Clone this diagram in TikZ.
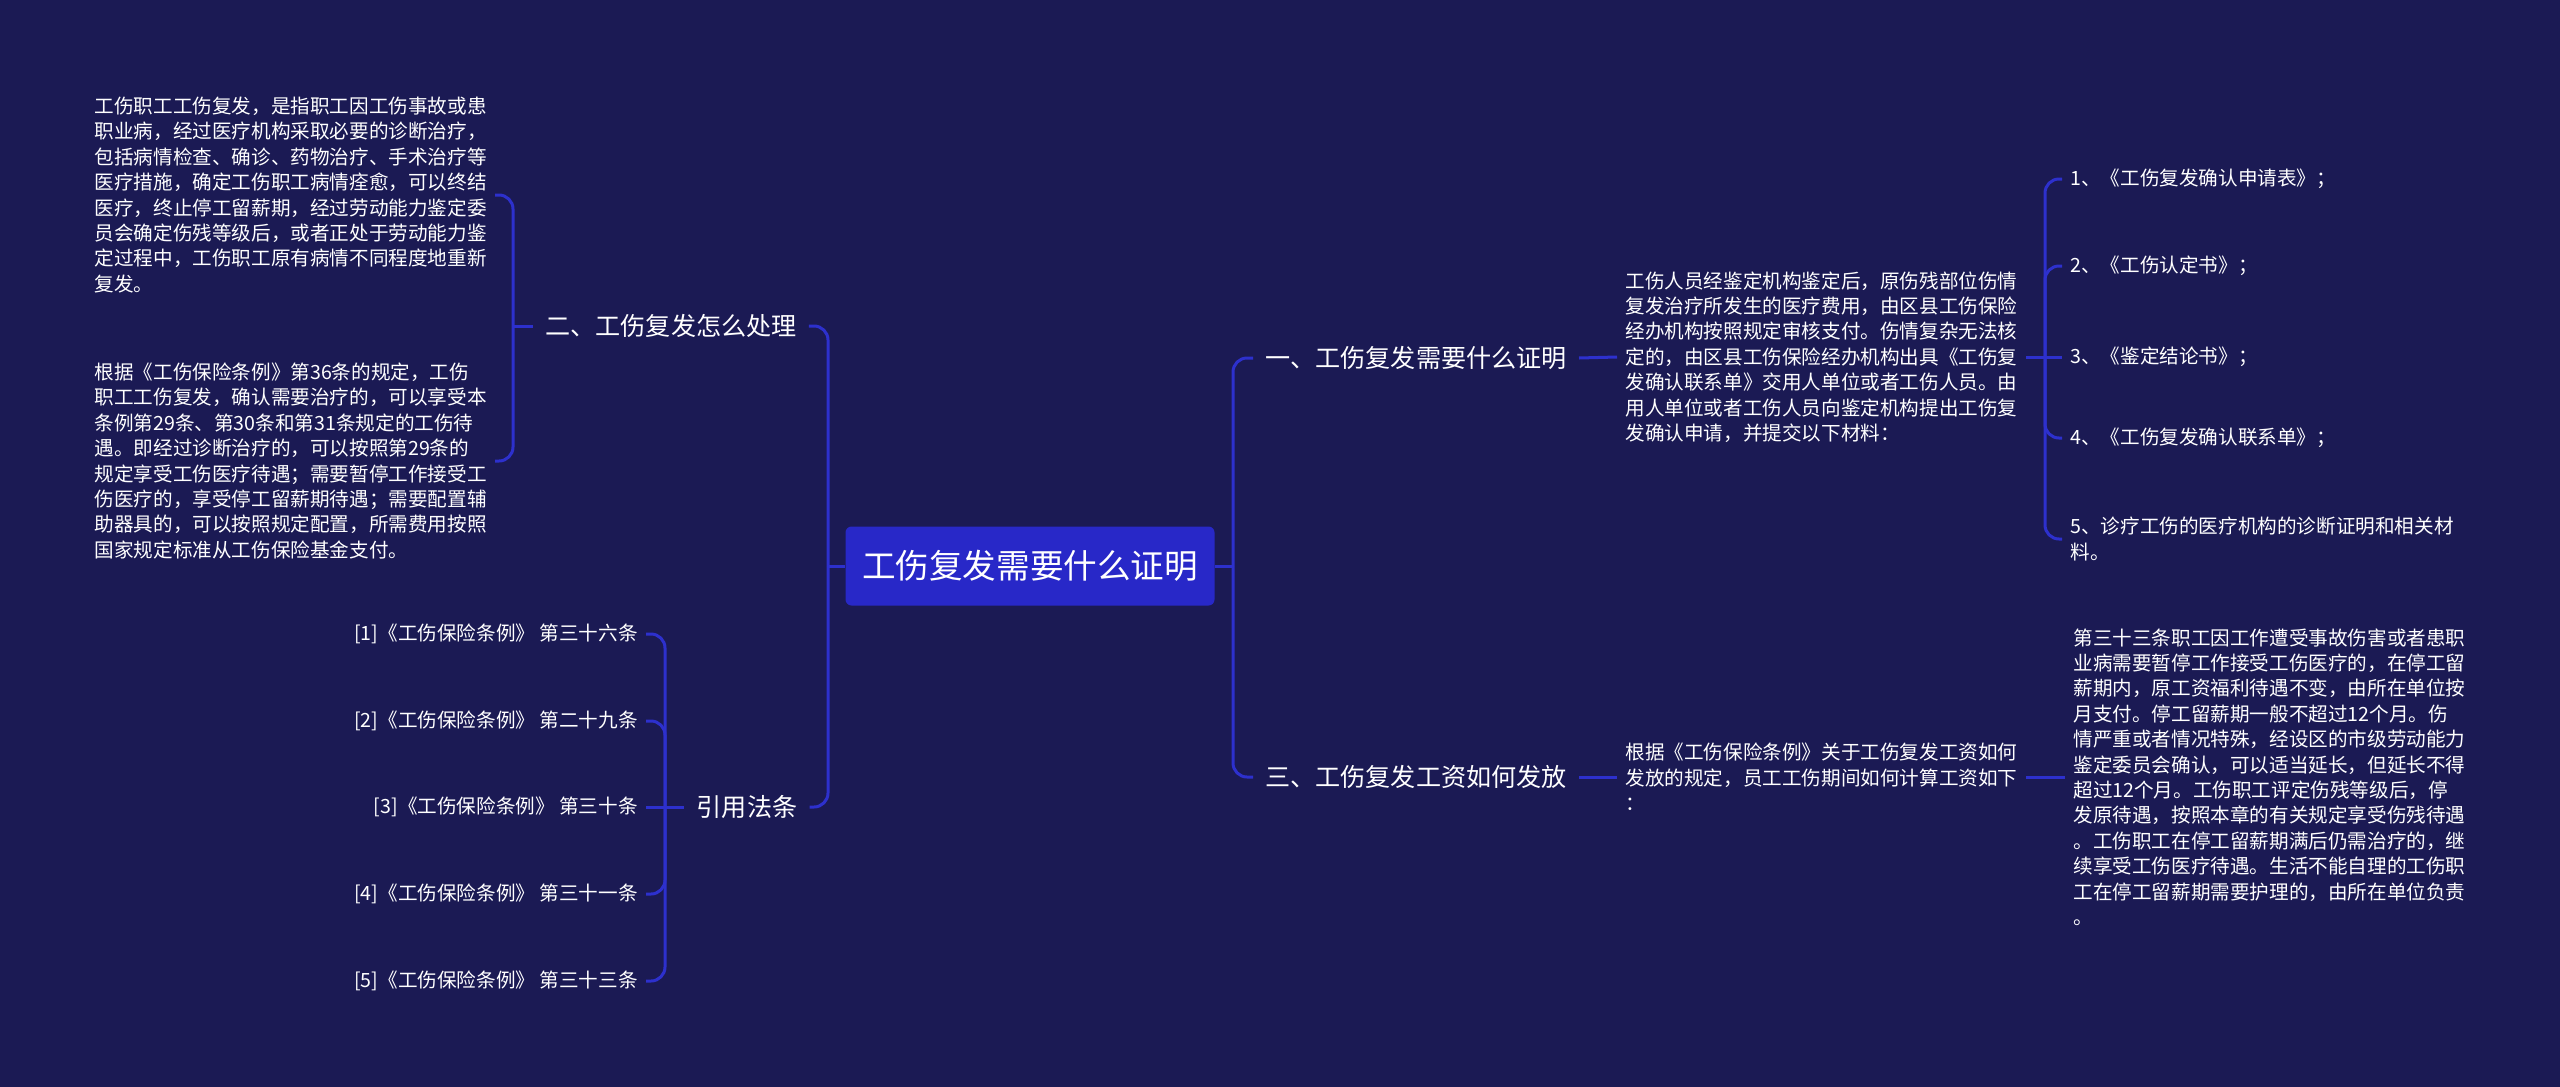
\documentclass[tikz,border=0pt]{standalone}
\usepackage{fontspec}
\setmainfont{Noto Sans CJK SC}
\definecolor{fond}{RGB}{27,26,84}
\definecolor{trait}{RGB}{45,48,205}
\definecolor{boite}{RGB}{40,40,200}

\begin{document}
\begin{tikzpicture}[x=0.5pt,y=-0.5pt,
	racine/.style={fill=boite,rounded corners=3pt,text=white,font=\fontsize{16.8}{20}\selectfont,minimum width=184.5pt,minimum height=39.5pt},
	branche/.style={text=white,font=\fontsize{12.55}{15}\selectfont,inner xsep=6pt},
	texte/.style={text=white,font=\fontsize{9.8}{12.7}\selectfont,align=left,inner sep=4pt},
	lien/.style={draw=trait,line width=1.5pt,rounded corners=7pt}]
	% Fond
	\fill[fond] (0,0) rectangle (2560,1087);
	\useasboundingbox (0,0) rectangle (2560,1087);
	% Racine
	\node[racine] (root) at (1030,566) {工伤复发需要什么证明};
	% Branches
	\node[branche] (two) at (671,326) {二、工伤复发怎么处理};
	\node[branche] (laws) at (747,807) {引用法条};
	\node[branche] (one) at (1416,358) {一、工伤复发需要什么证明};
	\node[branche] (three) at (1416,777) {三、工伤复发工资如何发放};
	\coordinate (lj) at (828,566);
	\coordinate (rj) at (1233,566);
	\draw[lien] (two.east) -| (lj);
	\draw[lien] (laws.east) -| (lj);
	\draw[lien] (lj) -- (root.west);
	\draw[lien] (root.east) -- (rj);
	\draw[lien] (rj) |- (one.west);
	\draw[lien] (rj) |- (three.west);
	% Textes de gauche
	\node[texte,anchor=east] (b1) at (495,195) {工伤职工工伤复发，是指职工因工伤事故或患\\
		职业病，经过医疗机构采取必要的诊断治疗，\\
		包括病情检查、确诊、药物治疗、手术治疗等\\
		医疗措施，确定工伤职工病情痊愈，可以终结\\
		医疗，终止停工留薪期，经过劳动能力鉴定委\\
		员会确定伤残等级后，或者正处于劳动能力鉴\\
		定过程中，工伤职工原有病情不同程度地重新\\
		复发。};
	\node[texte,anchor=east] (b2) at (495,461) {根据《工伤保险条例》第36条的规定，工伤\\
		职工工伤复发，确认需要治疗的，可以享受本\\
		条例第29条、第30条和第31条规定的工伤待\\
		遇。即经过诊断治疗的，可以按照第29条的\\
		规定享受工伤医疗待遇；需要暂停工作接受工\\
		伤医疗的，享受停工留薪期待遇；需要配置辅\\
		助器具的，可以按照规定配置，所需费用按照\\
		国家规定标准从工伤保险基金支付。};
	\coordinate (twoj) at (513,326);
	\draw[lien] (b1.east) -| (twoj) |- (b2.east);
	\draw[lien] (twoj) -- (two.west);
	% Articles cites
	\node[texte,anchor=east] (r1) at (646,634) {[1]《工伤保险条例》 第三十六条};
	\node[texte,anchor=east] (r2) at (646,721) {[2]《工伤保险条例》 第二十九条};
	\node[texte,anchor=east] (r3) at (646,807) {[3]《工伤保险条例》 第三十条};
	\node[texte,anchor=east] (r4) at (646,894) {[4]《工伤保险条例》 第三十一条};
	\node[texte,anchor=east] (r5) at (646,981) {[5]《工伤保险条例》 第三十三条};
	\coordinate (lawsj) at (665,807);
	\foreach \r in {r1,r2,r4,r5}
		\draw[lien] (\r.east) -| (lawsj);
	\draw[lien] (r3.east) -- (laws.west);
	% Textes de droite
	\node[texte,anchor=west] (blkA) at (1617,357) {工伤人员经鉴定机构鉴定后，原伤残部位伤情\\
		复发治疗所发生的医疗费用，由区县工伤保险\\
		经办机构按照规定审核支付。伤情复杂无法核\\
		定的，由区县工伤保险经办机构出具《工伤复\\
		发确认联系单》交用人单位或者工伤人员。由\\
		用人单位或者工伤人员向鉴定机构提出工伤复\\
		发确认申请，并提交以下材料：};
	\draw[lien] (one.east) -- (blkA.west);
	\node[texte,anchor=west] (i1) at (2062,179) {1、《工伤复发确认申请表》；};
	\node[texte,anchor=west] (i2) at (2062,266) {2、《工伤认定书》；};
	\node[texte,anchor=west] (i3) at (2062,357) {3、《鉴定结论书》；};
	\node[texte,anchor=west] (i4) at (2062,438) {4、《工伤复发确认联系单》；};
	\node[texte,anchor=west] (i5) at (2062,539) {5、诊疗工伤的医疗机构的诊断证明和相关材\\料。};
	\coordinate (itemj) at (2045,357);
	\draw[lien] (blkA.east) -- (i3.west);
	\foreach \i in {i1,i2,i4,i5}
		\draw[lien] (itemj) |- (\i.west);
	\node[texte,anchor=west] (blkB) at (1617,777) {根据《工伤保险条例》关于工伤复发工资如何\\
		发放的规定，员工工伤期间如何计算工资如下\\
		：};
	\draw[lien] (three.east) -- (blkB.west);
	\node[texte,anchor=west] (blkC) at (2065,777) {第三十三条职工因工作遭受事故伤害或者患职\\
		业病需要暂停工作接受工伤医疗的，在停工留\\
		薪期内，原工资福利待遇不变，由所在单位按\\
		月支付。停工留薪期一般不超过12个月。伤\\
		情严重或者情况特殊，经设区的市级劳动能力\\
		鉴定委员会确认，可以适当延长，但延长不得\\
		超过12个月。工伤职工评定伤残等级后，停\\
		发原待遇，按照本章的有关规定享受伤残待遇\\
		。工伤职工在停工留薪期满后仍需治疗的，继\\
		续享受工伤医疗待遇。生活不能自理的工伤职\\
		工在停工留薪期需要护理的，由所在单位负责\\
		。};
	\draw[lien] (blkB.east) -- (blkC.west);
\end{tikzpicture}
\end{document}
